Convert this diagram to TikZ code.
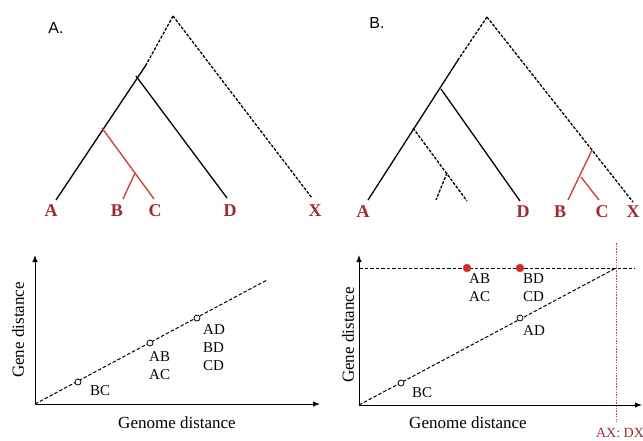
\documentclass[tikz,border=0pt]{standalone}
\usepackage{fontspec}
\setmainfont{Liberation Serif}
\setsansfont{Liberation Sans}
\usetikzlibrary{arrows.meta,positioning,calc}
\definecolor{leafred}{HTML}{9E2A2F}
\definecolor{branchred}{HTML}{C8483C}
\definecolor{dotred}{HTML}{D42A2A}

\begin{document}
\begin{tikzpicture}[x=1pt,y=-1pt,
  leaf/.style={font=\fontsize{18}{18}\selectfont\bfseries,text=leafred,inner sep=0pt},
  tag/.style={font=\fontsize{15}{18}\selectfont,align=left,inner sep=0pt,anchor=north west},
  panel/.style={font=\sffamily\fontsize{16}{16}\selectfont,inner sep=0pt},
  axlabel/.style={font=\fontsize{17}{17}\selectfont,inner sep=0pt},
  branch/.style={line width=1.3pt},
  lost/.style={line width=1.3pt,dash pattern=on 3pt off 1.5pt},
  redbranch/.style={line width=1.4pt,draw=branchred},
  axisline/.style={line width=1pt,-{Latex[length=7pt,width=5.5pt]}},
  trend/.style={line width=1pt,dash pattern=on 3.5pt off 2pt},
  cutoff/.style={line width=0.9pt,draw=branchred,dash pattern=on 1.5pt off 1.2pt},
  pair/.style={circle,draw,line width=0.8pt,fill=white,inner sep=0pt,minimum size=6pt},
  odd/.style={circle,fill=dotred,draw=branchred,inner sep=0pt,minimum size=8pt}
]
  \useasboundingbox (0,0) rectangle (643,440);

  % A. species tree
  \node[panel] (titleA) at (56,28) {A.};
  \coordinate (rootA) at (173,16);
  \coordinate (cutA) at (146,65);
  \coordinate (nA) at (136,76);
  \coordinate (nBCA) at (102,128);
  \coordinate (nBA) at (135,173);
  \coordinate (endA) at (56,200);
  \coordinate (endB) at (123,199);
  \coordinate (endC) at (154,199);
  \coordinate (endD) at (227,198);
  \coordinate (endX) at (312,198);
  \draw[lost] (rootA) -- (cutA);
  \draw[branch] (cutA) -- (endA);
  \draw[lost] (rootA) -- (endX);
  \draw[branch] (nA) -- (endD);
  \draw[redbranch] (nBCA) -- (endC);
  \draw[redbranch] (nBA) -- (endB);
  \node[leaf] (labA) at (51,211) {A};
  \node[leaf] (labB) at (117,211) {B};
  \node[leaf] (labC) at (155,211) {C};
  \node[leaf] (labD) at (230,211) {D};
  \node[leaf] (labX) at (315,211) {X};

  % B. species tree with transfer
  \node[panel] (titleB) at (377,23) {B.};
  \coordinate (rootB) at (487,17);
  \coordinate (cutB) at (458,60);
  \coordinate (nB) at (441,89);
  \coordinate (nLost) at (413,128);
  \coordinate (nLost2) at (447,173);
  \coordinate (nHgt) at (592,150);
  \coordinate (nHgt2) at (581,177);
  \coordinate (endAb) at (368,200);
  \coordinate (endDb) at (520,201);
  \coordinate (endL1) at (467,201);
  \coordinate (endL2) at (436,200);
  \coordinate (endBb) at (568,200);
  \coordinate (endCb) at (599,200);
  \coordinate (endXb) at (633,202);
  \draw[lost] (rootB) -- (cutB);
  \draw[branch] (cutB) -- (endAb);
  \draw[lost] (rootB) -- (endXb);
  \draw[branch] (nB) -- (endDb);
  \draw[lost] (nLost) -- (endL1);
  \draw[lost] (nLost2) -- (endL2);
  \draw[redbranch] (nHgt) -- (endBb);
  \draw[redbranch] (nHgt2) -- (endCb);
  \node[leaf] (labAb) at (363,212) {A};
  \node[leaf] (labDb) at (523,212) {D};
  \node[leaf] (labBb) at (560,212) {B};
  \node[leaf] (labCb) at (602,212) {C};
  \node[leaf] (labXb) at (633,212) {X};

  % A. distance plot
  \coordinate (oA) at (35,404);
  \coordinate (yA) at (35,255);
  \coordinate (xA) at (320,404);
  \coordinate (tA) at (267,280);
  \draw[axisline] (oA) -- (yA);
  \draw[axisline] (oA) -- (xA);
  \draw[trend] (oA) -- (tA);
  \node[pair] (bcA) at (78,382) {};
  \node[pair] (abA) at (150,343) {};
  \node[pair] (adA) at (197,318) {};
  \node[tag] (tbcA) at (90,385) {BC};
  \node[tag] (tabA) at (149,351) {AB\\AC};
  \node[tag] (tadA) at (203,324) {AD\\BD\\CD};
  \node[axlabel] (genomeA) at (177,423) {Genome distance};
  \node[axlabel,rotate=90] (geneA) at (18,330) {Gene distance};

  % B. distance plot
  \coordinate (oB) at (359,405);
  \coordinate (yB) at (359,255);
  \coordinate (xB) at (642,405);
  \coordinate (hB) at (359,268);
  \coordinate (hEndB) at (635,268);
  \coordinate (tB) at (616,268);
  \coordinate (vTop) at (616,243);
  \coordinate (vBot) at (616,422);
  \draw[cutoff] (vTop) -- (vBot);
  \draw[axisline] (oB) -- (yB);
  \draw[axisline] (oB) -- (xB);
  \draw[trend] (hB) -- (hEndB);
  \draw[trend] (oB) -- (tB);
  \node[pair] (bcB) at (401,383) {};
  \node[pair] (adB) at (520,318) {};
  \node[odd] (abB) at (467,268) {};
  \node[odd] (bdB) at (520,268) {};
  \node[tag] (tbcB) at (412,387) {BC};
  \node[tag] (tadB) at (523,325) {AD};
  \node[tag] (tabB) at (469,273) {AB\\AC};
  \node[tag] (tbdB) at (523,273) {BD\\CD};
  \node[axlabel] (genomeB) at (468,423) {Genome distance};
  \node[axlabel,rotate=90] (geneB) at (348,335) {Gene distance};
  \node[font=\fontsize{14}{14}\selectfont,text=leafred,inner sep=0pt] (axdx) at (620,433) {AX: DX};
\end{tikzpicture}
\end{document}
